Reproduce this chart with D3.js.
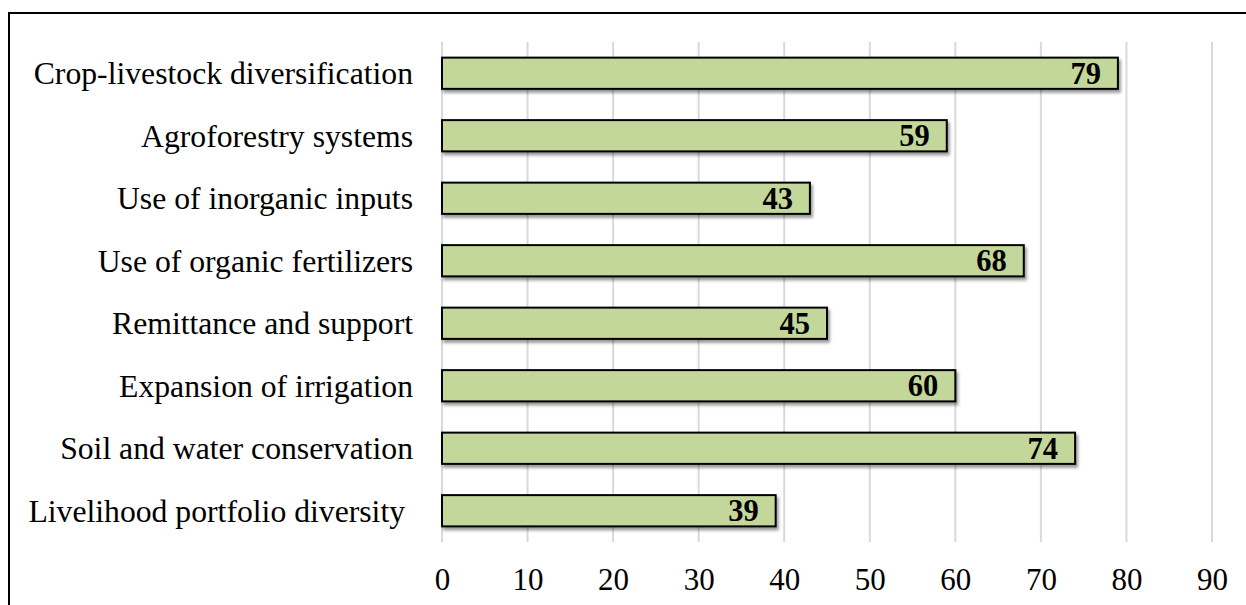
<!DOCTYPE html>
<html>
<head>
<meta charset="utf-8">
<script src="https://cdn.jsdelivr.net/npm/d3@7"></script>
<style>
  html, body { margin: 0; padding: 0; background: #fff; }
  svg { display: block; }
</style>
</head>
<body>
<svg id="chart" width="1246" height="605"></svg>
<script>
// Adaptation strategies and the share of households using each (%)
const categories = [
  "Crop-livestock diversification",
  "Agroforestry systems",
  "Use of inorganic inputs",
  "Use of organic fertilizers",
  "Remittance and support",
  "Expansion of irrigation",
  "Soil and water conservation",
  "Livelihood portfolio diversity "
];
const values = [79, 59, 43, 68, 45, 60, 74, 39];
const tickValues = [0, 10, 20, 30, 40, 50, 60, 70, 80, 90];

const svg = d3.select("#chart");
const font = "'Liberation Serif', 'Times New Roman', serif";

const plot = { left: 442, right: 1212, top: 42, bottom: 542 };

const x = d3.scaleLinear().domain([0, 90]).range([plot.left, plot.right]);
const y = d3.scaleBand().domain(categories).range([plot.top, plot.bottom]).paddingInner(0.5).paddingOuter(0.25);

// Soft shadow under each bar
const defs = svg.append("defs");
const shadow = defs.append("filter").attr("id", "barShadow")
  .attr("x", "-5%").attr("y", "-30%").attr("width", "115%").attr("height", "180%");
shadow.append("feDropShadow")
  .attr("dx", 2).attr("dy", 3).attr("stdDeviation", 1.6)
  .attr("flood-color", "#000").attr("flood-opacity", 0.4);

// Outer frame
svg.append("rect")
  .attr("x", 9).attr("y", 13).attr("width", 1400).attr("height", 800)
  .attr("fill", "none").attr("stroke", "#000").attr("stroke-width", 2);

// Vertical gridlines
svg.append("g")
  .selectAll("line").data(tickValues).join("line")
  .attr("x1", d => x(d)).attr("x2", d => x(d))
  .attr("y1", plot.top).attr("y2", plot.bottom)
  .attr("stroke", "#d9d9d9").attr("stroke-width", 2);

// Bottom axis tick labels
const xAxis = d3.axisBottom(x).tickValues(tickValues).tickSize(0).tickPadding(0);
const gx = svg.append("g").attr("transform", `translate(0, 590)`).call(xAxis);
gx.select(".domain").remove();
gx.selectAll("text")
  .attr("dy", 0).attr("y", 0)
  .attr("font-family", font).attr("font-size", 31).attr("fill", "#000");

// Category labels
const yAxis = d3.axisLeft(y).tickSize(0).tickPadding(0);
const gy = svg.append("g").attr("transform", `translate(413, 0)`).call(yAxis);
gy.select(".domain").remove();
gy.selectAll("text")
  .attr("x", 0).attr("dy", "0.34em")
  .style("white-space", "pre")
  .attr("font-family", font).attr("font-size", 31.7).attr("fill", "#000");

// Bars
svg.append("g")
  .selectAll("rect").data(values).join("rect")
  .attr("x", x(0))
  .attr("y", (d, i) => y(categories[i]))
  .attr("width", d => x(d) - x(0))
  .attr("height", y.bandwidth())
  .attr("fill", "#c4d79b")
  .attr("stroke", "#000").attr("stroke-width", 2)
  .attr("filter", "url(#barShadow)");

// Value labels inside bar ends
svg.append("g")
  .selectAll("text").data(values).join("text")
  .attr("x", d => x(d) - 17)
  .attr("y", (d, i) => y(categories[i]) + y.bandwidth() / 2)
  .attr("dy", "0.35em")
  .attr("text-anchor", "end")
  .attr("font-family", font).attr("font-size", 30.5).attr("font-weight", "bold")
  .attr("fill", "#000")
  .text(d => d);
</script>
</body>
</html>
